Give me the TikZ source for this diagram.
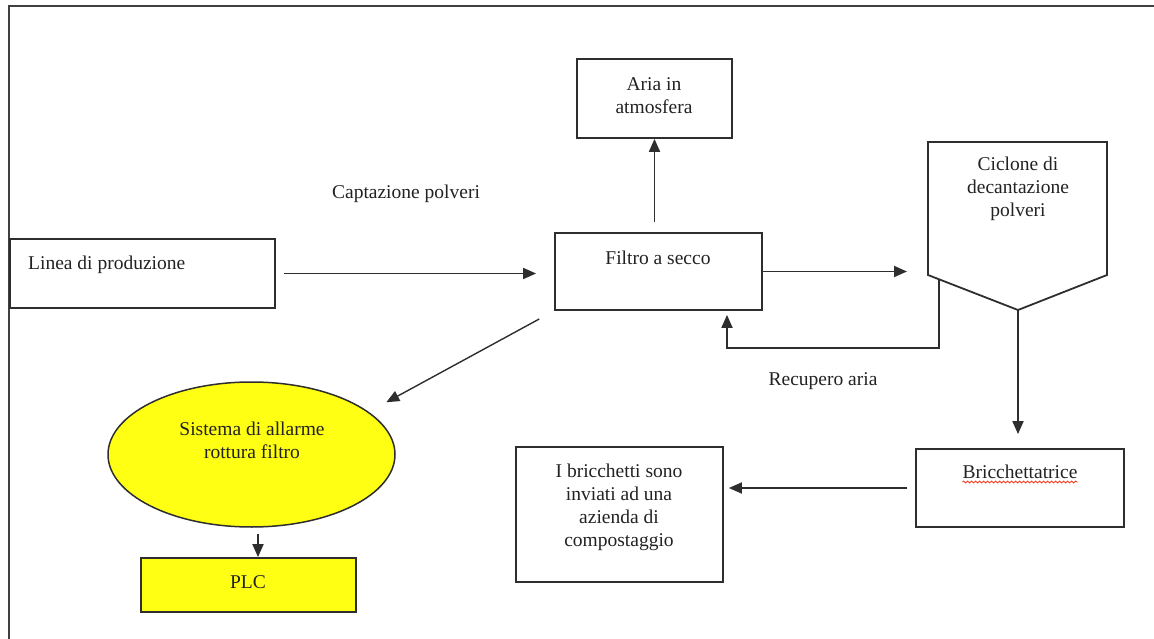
\documentclass[tikz,border=0pt]{standalone}
\usepackage{fontspec}
\setmainfont{Liberation Serif}
\usetikzlibrary{arrows.meta,calc,shapes.geometric,decorations.pathmorphing}
\definecolor{linec}{HTML}{2E2E2E}
\definecolor{txtc}{HTML}{222222}
\definecolor{alarm}{HTML}{FFFF14}
\begin{document}
\begin{tikzpicture}[x=1pt,y=-1pt,
  box/.style={draw=linec, line width=1.8pt, rectangle, inner sep=0pt},
  txt/.style={font=\fontsize{19.5}{23}\selectfont, align=center, text=txtc, inner sep=0pt},
  arr/.style={draw=linec, line width=1.8pt, -{Triangle[length=13pt,width=11pt]}},
  frame/.style={draw=black!75, line width=2.2pt}]
\useasboundingbox (0,0) rectangle (1154,639);

% page frame
\draw[frame] (1154,6) -- (9,6) -- (9,639);

% boxes
\node[box, minimum width=265pt, minimum height=69pt] (linea) at (142.5,273.5) {};
\node[box, minimum width=207pt, minimum height=77pt] (filtro) at (658.5,271.5) {};
\node[box, minimum width=155pt, minimum height=79pt] (aria) at (654.5,98.5) {};
\node[box, minimum width=208pt, minimum height=78pt] (bricch) at (1020,488) {};
\node[box, minimum width=207pt, minimum height=135pt] (ibric) at (619.5,514.5) {};
\node[box, fill=alarm, minimum width=215pt, minimum height=54pt] (plc) at (248.5,585) {};
\node[draw=linec, line width=1.5pt, fill=alarm, ellipse, minimum width=287pt, minimum height=145pt, inner sep=0pt] (allarme) at (251.5,454.5) {};

% cyclone (pentagon)
\coordinate (cyc-nw) at (928,142);
\coordinate (cyc-ne) at (1107,142);
\coordinate (cyc-sw) at (928,275);
\coordinate (cyc-se) at (1107,275);
\coordinate (cyc-tip) at (1018,310);
\coordinate (cyc-rec) at (939,279);
\draw[linec, line width=1.8pt] (cyc-nw) -- (cyc-ne) -- (cyc-se) -- (cyc-tip) -- (cyc-sw) -- cycle;

% texts
\node[txt, anchor=west] (lineaT) at (28,265) {Linea di produzione};
\node[txt] (filtroT) at (658,258) {Filtro a secco};
\node[txt] (ariaT) at (654,96) {Aria in\\atmosfera};
\node[txt] (captT) at (406,194) {Captazione polveri};
\node[txt] (cycT) at (1018,189) {Ciclone di\\decantazione\\polveri};
\node[txt] (recT) at (823,381) {Recupero aria};
\node[txt] (bricchT) at (1020,472) {Bricchettatrice};
\node[txt] (ibricT) at (619,507) {I bricchetti sono\\inviati ad una\\azienda di\\compostaggio};
\node[txt] (allT) at (252,440) {Sistema di allarme\\rottura filtro};
\node[txt] (plcT) at (248,582) {PLC};

% spell-check underline
\draw[red!75!orange, line width=0.7pt, decorate,
  decoration={snake, amplitude=1pt, segment length=4pt}]
  ($(bricchT.south west)+(0,3)$) -- ($(bricchT.south east)+(0,3)$);

% connectors
\draw[arr, shorten <=8pt, shorten >=18pt] (linea.east) -- (linea.east -| filtro.west);
\draw[arr, shorten <=10pt] (aria.south |- filtro.north) -- (aria.south);
\draw[arr, shorten >=21pt] (filtro.east) -- (filtro.east -| cyc-sw);
\coordinate (loop) at (727,348);
\draw[arr, shorten >=4pt] (cyc-rec) |- (loop) -- (loop |- filtro.south);
\draw[arr, shorten >=14pt] (cyc-tip) -- (cyc-tip |- bricch.north);
\draw[arr, shorten <=8pt, shorten >=5pt] (bricch.west) -- (bricch.west -| ibric.east);
\draw[arr, line width=1.4pt, shorten <=17pt, shorten >=20pt] (filtro.south west) -- (allarme.20);
\draw[arr] ($(allarme.south)+(6.5,6)$) -- ($(plc.north)+(9.5,0)$);
\end{tikzpicture}
\end{document}
